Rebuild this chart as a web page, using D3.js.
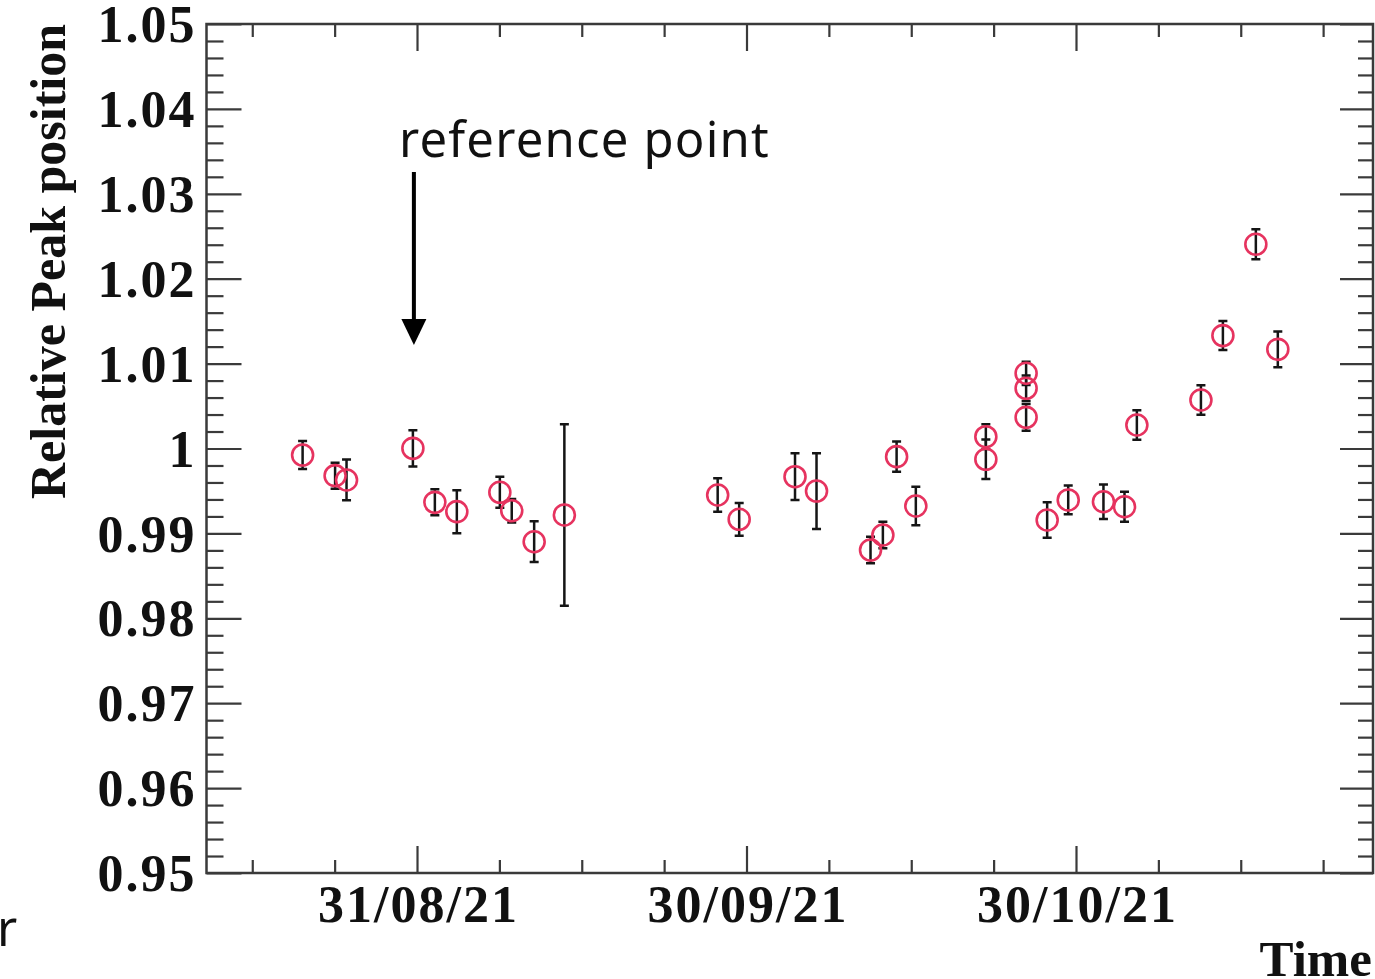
<!DOCTYPE html>
<html>
<head>
<meta charset="utf-8">
<script src="https://cdn.jsdelivr.net/npm/d3@7"></script>
<style>
  html, body { margin: 0; padding: 0; background: #fff; }
  svg { display: block; }
</style>
</head>
<body>
<svg id="chart" width="1375" height="979"></svg>
<script>
// ---- data ----
const times = [
  "2021-08-20T14:00","2021-08-23T13:00","2021-08-24T14:00","2021-08-30T15:00",
  "2021-09-01T15:00","2021-09-03T15:00","2021-09-07T13:00","2021-09-08T15:00",
  "2021-09-10T16:00","2021-09-13T10:00","2021-09-27T09:00","2021-09-29T08:00",
  "2021-10-04T10:00","2021-10-06T09:00","2021-10-11T07:00","2021-10-12T10:00",
  "2021-10-13T16:00","2021-10-15T10:00","2021-10-21T19:00","2021-10-21T19:00",
  "2021-10-25T11:00","2021-10-25T11:00","2021-10-25T11:00","2021-10-27T09:00",
  "2021-10-29T07:00","2021-11-01T12:00","2021-11-03T10:00","2021-11-04T13:00",
  "2021-11-10T09:00","2021-11-12T09:00","2021-11-15T09:00","2021-11-17T09:00"
];
const peakValues = [
  0.99923, 0.99680, 0.99629, 1.00002,
  0.99366, 0.99256, 0.99484, 0.99267,
  0.98902, 0.99217, 0.99452, 0.99166,
  0.99668, 0.99499, 0.98804, 0.98981,
  0.99904, 0.99323, 1.00139, 0.99873,
  1.00886, 1.00709, 1.00367, 0.99158,
  0.99394, 0.99373, 0.99314, 1.00277,
  1.00571, 1.01330, 1.02405, 1.01168
];
const peakErrors = [
  0.00165, 0.00153, 0.00240, 0.00214,
  0.00153, 0.00253, 0.00183, 0.00138,
  0.00240, 0.01068, 0.00197, 0.00193,
  0.00275, 0.00446, 0.00157, 0.00157,
  0.00177, 0.00226, 0.00146, 0.00232,
  0.00137, 0.00150, 0.00158, 0.00210,
  0.00169, 0.00202, 0.00177, 0.00173,
  0.00173, 0.00171, 0.00177, 0.00210
];
const xDomain = ["2021-08-11T20:00", "2021-11-26T01:00"];
const xMajorTicks = ["2021-08-31T00:00", "2021-09-30T00:00", "2021-10-30T00:00"];
const xMinorStepDays = 7.5;
const yDomain = [0.95, 1.05];
const yMajorTicks = [0.95, 0.96, 0.97, 0.98, 0.99, 1.00, 1.01, 1.02, 1.03, 1.04, 1.05];
const yTickLabels = ["0.95", "0.96", "0.97", "0.98", "0.99", "1", "1.01", "1.02", "1.03", "1.04", "1.05"];
const yMinorStep = 0.002;
const yTitle = "Relative Peak position";
const xTitle = "Time";
const annotationText = "reference point";
const annotationTime = "2021-08-30T15:00";

// ---- layout ----
const parse = d3.utcParse("%Y-%m-%dT%H:%M");
const L = 206.5, R = 1373, T = 24, B = 873;
const svg = d3.select("#chart");

const x = d3.scaleUtc().domain(xDomain.map(parse)).range([L, R]);
const y = d3.scaleLinear().domain(yDomain).range([B, T]);

const serif = "'Liberation Serif', 'Times New Roman', serif";
const sans = "'Noto Sans', 'DejaVu Sans', sans-serif";
const axisColor = "#3a3a3a";

// minor ticks
const dayMs = 86400000;
const [d0, d1] = x.domain();
const majorDates = xMajorTicks.map(parse);
const xMinor = [];
for (let k = -20; k <= 20; k++) {
  const t = new Date(+majorDates[0] + k * xMinorStepDays * dayMs);
  if (t >= d0 && t <= d1 && !majorDates.some(m => Math.abs(+m - +t) < 1000)) xMinor.push(t);
}
const yMinor = d3.range(0, 51).map(i => +(yDomain[0] + i * yMinorStep).toFixed(4))
  .filter(v => !yMajorTicks.some(m => Math.abs(m - v) < 1e-6));

function styleAxis(g) {
  g.select(".domain").remove();
  g.selectAll(".tick line").attr("stroke", axisColor).attr("stroke-width", 2.2);
  g.selectAll(".tick text")
    .attr("fill", "#111")
    .style("font-family", serif)
    .style("font-weight", "bold")
    .style("font-size", "52px")
    .style("letter-spacing", "2px");
}

// bottom axis
svg.append("g").attr("transform", `translate(0,${B})`)
  .call(d3.axisBottom(x).tickValues(majorDates).tickFormat(d3.utcFormat("%d/%m/%y"))
    .tickSizeInner(-27).tickSizeOuter(0).tickPadding(12))
  .call(styleAxis)
  .call(g => g.selectAll(".tick text").attr("x", 1));
svg.append("g").attr("transform", `translate(0,${B})`)
  .call(d3.axisBottom(x).tickValues(xMinor).tickFormat("").tickSizeInner(-13).tickSizeOuter(0))
  .call(styleAxis);
// top axis
svg.append("g").attr("transform", `translate(0,${T})`)
  .call(d3.axisTop(x).tickValues(majorDates).tickFormat("").tickSizeInner(-27).tickSizeOuter(0))
  .call(styleAxis);
svg.append("g").attr("transform", `translate(0,${T})`)
  .call(d3.axisTop(x).tickValues(xMinor).tickFormat("").tickSizeInner(-13).tickSizeOuter(0))
  .call(styleAxis);
// left axis
svg.append("g").attr("transform", `translate(${L},0)`)
  .call(d3.axisLeft(y).tickValues(yMajorTicks).tickFormat((d, i) => yTickLabels[i])
    .tickSizeInner(-35).tickSizeOuter(0).tickPadding(10))
  .call(styleAxis)
  .call(g => g.selectAll(".tick text").attr("dy", "0.34em"));
svg.append("g").attr("transform", `translate(${L},0)`)
  .call(d3.axisLeft(y).tickValues(yMinor).tickFormat("").tickSizeInner(-17).tickSizeOuter(0))
  .call(styleAxis);
// right axis
svg.append("g").attr("transform", `translate(${R},0)`)
  .call(d3.axisRight(y).tickValues(yMajorTicks).tickFormat("").tickSizeInner(-33).tickSizeOuter(0))
  .call(styleAxis);
svg.append("g").attr("transform", `translate(${R},0)`)
  .call(d3.axisRight(y).tickValues(yMinor).tickFormat("").tickSizeInner(-15).tickSizeOuter(0))
  .call(styleAxis);

// frame
svg.append("rect").attr("x", L).attr("y", T).attr("width", R - L).attr("height", B - T)
  .attr("fill", "none").attr("stroke", axisColor).attr("stroke-width", 2.5);

// titles
svg.append("text")
  .attr("transform", `translate(65,${T}) rotate(-90)`)
  .attr("text-anchor", "end")
  .style("font-family", serif).style("font-weight", "bold").style("font-size", "50px")
  .attr("fill", "#111")
  .text(yTitle);
svg.append("text")
  .attr("x", 1372).attr("y", 976)
  .attr("text-anchor", "end")
  .style("font-family", serif).style("font-weight", "bold").style("font-size", "51px")
  .attr("fill", "#111")
  .text(xTitle);

// data
const data = times.map((t, i) => ({ t: parse(t), v: peakValues[i], e: peakErrors[i] }));
const pts = svg.append("g");
const cap = 4.5;
pts.selectAll("path.err").data(data).join("path")
  .attr("class", "err")
  .attr("d", d => {
    const cx = x(d.t), yt = y(d.v + d.e), yb = y(d.v - d.e);
    return `M${cx},${yt}V${yb}M${cx - cap},${yt}H${cx + cap}M${cx - cap},${yb}H${cx + cap}`;
  })
  .attr("fill", "none").attr("stroke", "#151515").attr("stroke-width", 2.5);
pts.selectAll("circle").data(data).join("circle")
  .attr("cx", d => x(d.t)).attr("cy", d => y(d.v)).attr("r", 10.5)
  .attr("fill", "none").attr("stroke", "#e6335f").attr("stroke-width", 2.6);

// annotation
const ax = x(parse(annotationTime)) + 1;
svg.append("text")
  .attr("x", 399).attr("y", 157)
  .style("font-family", sans).style("font-size", "49px").style("letter-spacing", "1.2px")
  .attr("fill", "#111")
  .text(annotationText);
svg.append("line")
  .attr("x1", ax).attr("x2", ax).attr("y1", 172).attr("y2", 322)
  .attr("stroke", "#000").attr("stroke-width", 4);
svg.append("path")
  .attr("d", `M${ax - 12.5},319L${ax + 12.5},319L${ax},345Z`)
  .attr("fill", "#000");

// cut-off text at the left edge
svg.append("text")
  .attr("x", -3).attr("y", 946)
  .style("font-family", sans).style("font-size", "49px")
  .attr("fill", "#111")
  .text("r");
</script>
</body>
</html>
